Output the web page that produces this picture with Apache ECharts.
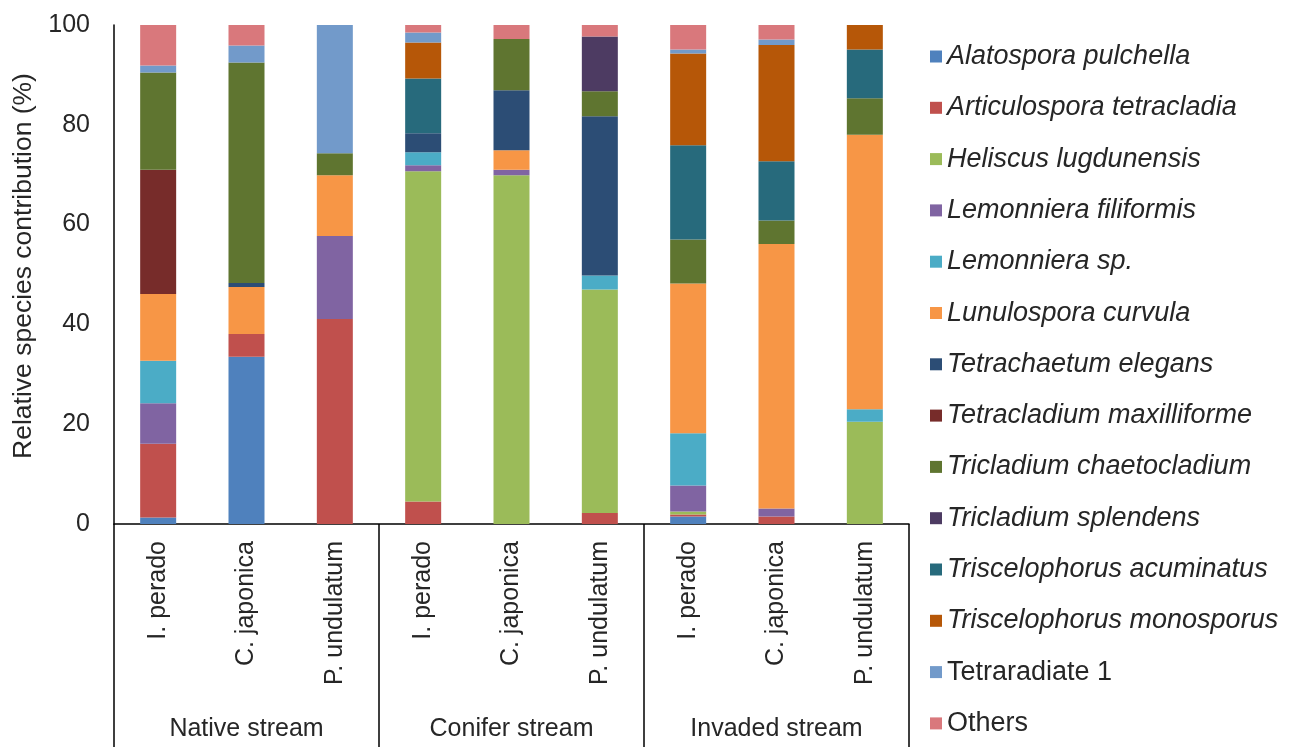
<!DOCTYPE html>
<html>
<head>
<meta charset="utf-8">
<style>
  html, body { margin: 0; padding: 0; background: #ffffff; }
  #chart { width: 1294px; height: 747px; }
</style>
<script src="https://cdn.jsdelivr.net/npm/echarts@6/dist/echarts.min.js"></script>
</head>
<body>
<div id="chart"></div>
<script>
// Leaf species on the x axis, grouped by stream
const categories = ['I. perado', 'C. japonica', 'P. undulatum',
                    'I. perado', 'C. japonica', 'P. undulatum',
                    'I. perado', 'C. japonica', 'P. undulatum'];
const streams = ['Native stream', 'Conifer stream', 'Invaded stream'];
const yTicks = [0, 20, 40, 60, 80, 100];

// Relative contribution (%) of each fungal species, one value per bar
const alatosporaPulchella       = [1.3, 33.5, 0,    0,    0,    0,    1.5,  0,    0];
const articulosporaTetracladia  = [14.8, 4.6, 41.1, 4.5,  0,    2.2,  0.4,  1.5,  0];
const heliscusLugdunensis       = [0,    0,   0,    66.2, 69.9, 44.8, 0.6,  0,    20.5];
const lemonnieraFiliformis      = [8.1,  0,   16.6, 1.2,  1.1,  0,    5.2,  1.6,  0];
const lemonnieraSp              = [8.5,  0,   0,    2.6,  0,    2.8,  10.5, 0,    2.5];
const lunulosporaCurvula        = [13.4, 9.4, 12.2, 0,    3.9,  0,    30.0, 53.0, 55.0];
const tetrachaetumElegans       = [0,    0.8, 0,    3.8,  12.0, 31.9, 0,    0,    0];
const tetracladiumMaxilliforme  = [24.9, 0,   0,    0,    0,    0,    0,    0,    0];
const tricladiumChaetocladium   = [19.5, 44.2, 4.4, 0,    10.3, 5.0,  8.8,  4.7,  7.3];
const tricladiumSplendens       = [0,    0,   0,    0,    0,    11.0, 0,    0,    0];
const triscelophorusAcuminatus  = [0,    0,   0,    11.0, 0,    0,    18.9, 11.9, 9.8];
const triscelophorusMonosporus  = [0,    0,   0,    7.2,  0,    0,    18.4, 23.3, 4.9];
const tetraradiate1             = [1.4,  3.4, 25.7, 2.0,  0,    0,    0.8,  1.1,  0];
const others                    = [8.1,  4.1, 0,    1.5,  2.8,  2.3,  4.9,  2.9,  0];

const speciesNames = [
  'Alatospora pulchella', 'Articulospora tetracladia', 'Heliscus lugdunensis',
  'Lemonniera filiformis', 'Lemonniera sp.', 'Lunulospora curvula',
  'Tetrachaetum elegans', 'Tetracladium maxilliforme', 'Tricladium chaetocladium',
  'Tricladium splendens', 'Triscelophorus acuminatus', 'Triscelophorus monosporus',
  'Tetraradiate 1', 'Others'
];
const speciesValues = [
  alatosporaPulchella, articulosporaTetracladia, heliscusLugdunensis,
  lemonnieraFiliformis, lemonnieraSp, lunulosporaCurvula,
  tetrachaetumElegans, tetracladiumMaxilliforme, tricladiumChaetocladium,
  tricladiumSplendens, triscelophorusAcuminatus, triscelophorusMonosporus,
  tetraradiate1, others
];
const speciesColors = [
  '#4f81bd', '#c0504d', '#9bbb59', '#8064a2', '#4bacc6', '#f79646', '#2c4d75',
  '#772c2a', '#5f7530', '#4d3b62', '#276a7c', '#b65708', '#729aca', '#d9787c'
];
// Undescribed taxa are written upright, named species in italics
const uprightNames = ['Tetraradiate 1', 'Others'];

const FONT = '"Liberation Sans", Arial, sans-serif';
const TEXT = '#262626';

const series = speciesNames.map((name, i) => ({
  name: name,
  type: 'bar',
  stack: 'total',
  barWidth: 36,
  xAxisIndex: 0,
  yAxisIndex: 0,
  itemStyle: { color: speciesColors[i] },
  emphasis: { disabled: true },
  data: speciesValues[i]
}));

const chart = echarts.init(document.getElementById('chart'), null, { renderer: 'canvas' });
chart.setOption({
  backgroundColor: '#ffffff',
  animation: false,
  textStyle: { fontFamily: FONT },
  grid: {
    left: 114, right: 385, top: 25, bottom: 223,
    containLabel: false,
    outerBoundsMode: 'none'
  },
  legend: {
    orient: 'vertical',
    left: 930,
    top: 43,
    padding: 0,
    icon: 'rect',
    itemWidth: 12,
    itemHeight: 12,
    itemGap: 24.3,
    data: speciesNames,
    selectedMode: false,
    formatter: n => uprightNames.includes(n) ? '{u|' + n + '}' : '{i|' + n + '}',
    textStyle: {
      color: TEXT,
      fontFamily: FONT,
      fontSize: 27,
      lineHeight: 26,
      rich: {
        i: { fontStyle: 'italic', fontSize: 27, lineHeight: 26, color: TEXT, fontFamily: FONT },
        u: { fontStyle: 'normal', fontSize: 27, lineHeight: 26, color: TEXT, fontFamily: FONT }
      }
    }
  },
  xAxis: [
    {
      type: 'category',
      position: 'bottom',
      data: categories,
      axisLine: { show: true, lineStyle: { color: '#000000', width: 1.5 } },
      axisTick: { show: false },
      axisLabel: {
        rotate: 90,
        interval: 0,
        margin: 17,
        fontSize: 25,
        color: TEXT,
        fontFamily: FONT
      }
    },
    {
      type: 'category',
      position: 'bottom',
      data: streams,
      axisLine: { show: false },
      axisTick: { show: true, interval: 0, length: 224, lineStyle: { color: '#000000', width: 1.5 } },
      axisLabel: {
        interval: 0,
        margin: 193,
        fontSize: 25,
        color: TEXT,
        fontFamily: FONT
      }
    }
  ],
  yAxis: {
    type: 'value',
    min: yTicks[0],
    max: yTicks[yTicks.length - 1],
    interval: yTicks[1] - yTicks[0],
    name: 'Relative species contribution (%)',
    nameLocation: 'middle',
    nameGap: 76,
    nameRotate: 90,
    nameTextStyle: { fontSize: 26.5, color: TEXT, fontFamily: FONT, padding: [0, 0, 0, 17] },
    axisLine: { show: true, lineStyle: { color: '#000000', width: 1.5 } },
    axisTick: { show: false },
    splitLine: { show: false },
    axisLabel: { margin: 24, fontSize: 25, color: TEXT, fontFamily: FONT }
  },
  series: series
});
</script>
</body>
</html>
